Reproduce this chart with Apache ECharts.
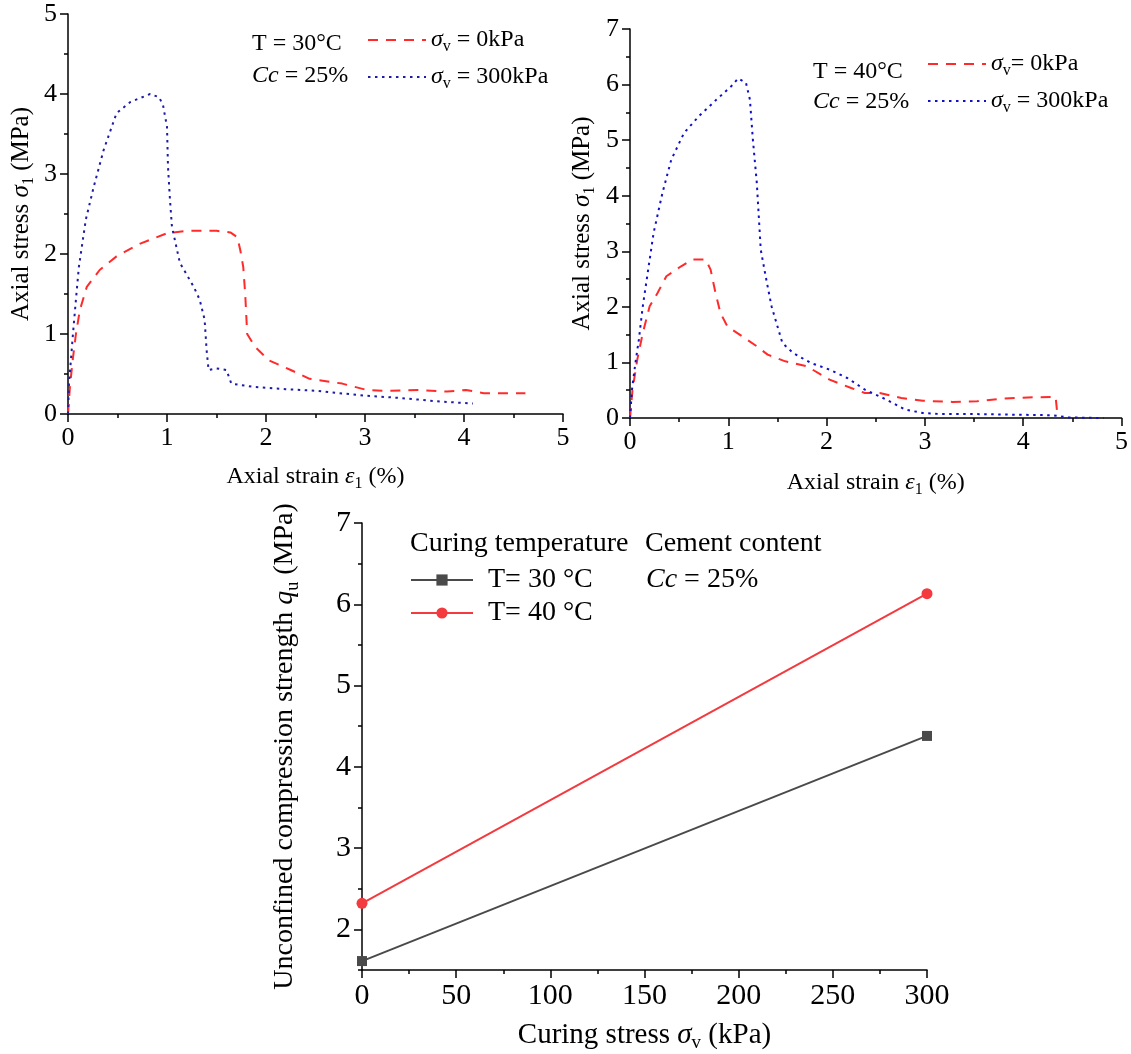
<!DOCTYPE html>
<html>
<head>
<meta charset="utf-8">
<title>Axial stress - strain and unconfined compression strength</title>
<script src="https://cdn.jsdelivr.net/npm/echarts@6/dist/echarts.min.js"></script>
<style>
    html, body { margin: 0; padding: 0; background: #fff; }
    #main { width: 1131px; height: 1054px; }
</style>
</head>
<body>
<div id="main"></div>
<script>
"use strict";

// T = 30°C, sigma_v = 0kPa
var strain30_0 = [0, 0.02, 0.05, 0.08, 0.12, 0.19, 0.32, 0.49, 0.73, 1.0, 1.2, 1.5, 1.64, 1.71, 1.74, 1.77, 1.79, 1.81, 1.89, 2.03, 2.25, 2.44, 2.77, 3.02, 3.2, 3.54, 3.83, 4.02, 4.2, 4.62];
var stress30_0 = [0, 0.35, 0.7, 1.0, 1.3, 1.59, 1.8, 1.97, 2.13, 2.26, 2.29, 2.29, 2.27, 2.21, 2.05, 1.84, 1.5, 1.0, 0.84, 0.67, 0.55, 0.44, 0.38, 0.30, 0.29, 0.30, 0.28, 0.30, 0.26, 0.26];
// T = 30°C, sigma_v = 300kPa
var strain30_300 = [0, 0.01, 0.03, 0.05, 0.08, 0.11, 0.18, 0.26, 0.36, 0.49, 0.63, 0.83, 0.92, 0.96, 1.0, 1.01, 1.03, 1.05, 1.13, 1.27, 1.33, 1.38, 1.40, 1.42, 1.5, 1.6, 1.65, 1.87, 2.2, 2.51, 2.99, 3.36, 3.54, 3.72, 4.09];
var stress30_300 = [0, 0.39, 0.68, 1.0, 1.43, 1.84, 2.43, 2.84, 3.3, 3.76, 3.9, 4.0, 3.96, 3.86, 3.59, 3.09, 2.68, 2.34, 1.89, 1.59, 1.43, 1.18, 0.8, 0.55, 0.57, 0.55, 0.38, 0.34, 0.31, 0.29, 0.23, 0.2, 0.18, 0.16, 0.13];
// T = 40°C, sigma_v = 0kPa
var strain40_0 = [0, 0.026, 0.074, 0.13, 0.2, 0.28, 0.37, 0.52, 0.63, 0.77, 0.82, 0.87, 0.92, 0.99, 1.14, 1.29, 1.4, 1.58, 1.8, 2.03, 2.25, 2.39, 2.54, 2.76, 2.98, 3.28, 3.53, 3.79, 4.05, 4.33, 4.35];
var stress40_0 = [0, 0.51, 1.05, 1.53, 2.01, 2.25, 2.55, 2.73, 2.85, 2.85, 2.67, 2.25, 1.89, 1.65, 1.47, 1.29, 1.14, 1.02, 0.93, 0.69, 0.54, 0.45, 0.45, 0.36, 0.31, 0.29, 0.3, 0.35, 0.37, 0.38, 0.02];
// T = 40°C, sigma_v = 300kPa
var strain40_300 = [0, 0.02, 0.055, 0.09, 0.13, 0.18, 0.24, 0.33, 0.42, 0.55, 0.7, 0.88, 1.03, 1.1, 1.18, 1.22, 1.25, 1.29, 1.31, 1.33, 1.38, 1.44, 1.51, 1.55, 1.66, 1.84, 2.03, 2.21, 2.39, 2.61, 2.8, 2.98, 3.17, 3.53, 3.9, 4.3, 4.45, 4.82];
var stress40_300 = [0, 0.51, 0.99, 1.41, 2.01, 2.61, 3.33, 4.05, 4.65, 5.13, 5.43, 5.73, 5.97, 6.11, 6.03, 5.73, 5.01, 4.23, 3.63, 3.03, 2.55, 2.01, 1.59, 1.35, 1.17, 0.99, 0.87, 0.72, 0.51, 0.33, 0.15, 0.09, 0.07, 0.07, 0.06, 0.05, 0.01, 0.0];

// qu vs curing stress
var curingStress = [0, 300];
var qu30 = [1.61, 4.38];
var qu40 = [2.32, 6.13];
var quTicks = [2, 3, 4, 5, 6, 7];

var FONT = '"Liberation Serif", "Times New Roman", serif';

function zip(xs, ys) {
    return xs.map(function (x, i) { return [x, ys[i]]; });
}

// n: normal, i: italic, s: subscript
function richSet(size) {
    var lh = size + 6;
    return {
        n: {fontFamily: FONT, fontSize: size, lineHeight: lh, color: '#000'},
        i: {fontFamily: FONT, fontSize: size, lineHeight: lh, fontStyle: 'italic', color: '#000'},
        s: {fontFamily: FONT, fontSize: Math.round(size * 0.65), lineHeight: Math.round(size * 0.72), verticalAlign: 'bottom', color: '#000'}
    };
}

var legendText = {
    '30|0': '{i|σ}{s|v}{n| = 0kPa}',
    '30|300': '{i|σ}{s|v}{n| = 300kPa}',
    '40|0': '{i|σ}{s|v}{n|= 0kPa}',
    '40|300': '{i|σ}{s|v}{n| = 300kPa}',
    't30': '{n|T= 30 °C}',
    't40': '{n|T= 40 °C}'
};

var axisLine = {lineStyle: {color: '#000', width: 1.5}};

function valueAxis(gridIndex, min, max, interval, size, name, nameSize, gap) {
    return {
        type: 'value',
        gridIndex: gridIndex,
        min: min,
        max: max,
        interval: interval,
        axisLine: axisLine,
        axisTick: {length: 8, lineStyle: {color: '#000', width: 1.5}},
        minorTick: {show: true, splitNumber: 2, length: 4, lineStyle: {color: '#000', width: 1.5}},
        splitLine: {show: false},
        axisLabel: {fontFamily: FONT, fontSize: size, color: '#000', margin: 11},
        name: name,
        nameLocation: 'middle',
        nameGap: gap,
        nameTextStyle: {rich: richSet(nameSize)}
    };
}

var strainName = '{n|Axial strain }{i|ε}{s|1}{n| (%)}';
var stressName = '{n|Axial stress }{i|σ}{s|1}{n| (MPa)}';

var RED = '#ff2a2a';
var dash = [10, 8];
var dot = [2.5, 4.5];

function curve(name, gi, data, color, type) {
    return {
        name: name,
        type: 'line',
        xAxisIndex: gi,
        yAxisIndex: gi,
        data: data,
        symbol: 'none',
        lineStyle: {color: color, width: 2, type: type},
        itemStyle: {color: color},
        z: type === dot ? 3 : 2
    };
}

function curveLegend(names, left, top, gap) {
    return {
        data: names,
        left: left,
        top: top,
        padding: 0,
        orient: 'vertical',
        itemWidth: 58,
        itemHeight: 14,
        itemGap: gap,
        selectedMode: false,
        itemStyle: {opacity: 0},
        formatter: function (n) { return legendText[n]; },
        textStyle: {rich: richSet(24)}
    };
}

function label(text, x, y, size) {
    return {
        type: 'text',
        x: x,
        y: y,
        style: {text: text, rich: richSet(size), verticalAlign: 'middle', align: 'left'}
    };
}

var chart = echarts.init(document.getElementById('main'));

var quY = valueAxis(2, 1.5, 7, null, 30,
    '{n|Unconfined compression strength }{i|q}{s|u}{n| (MPa)}', 28, 60);
delete quY.interval;
quY.position = 'left';
quY.minorTick = {show: false};
quY.axisTick.customValues = quTicks;
quY.axisLabel.customValues = quTicks;

var option = {
    backgroundColor: '#fff',
    animation: false,
    grid: [
        {left: 68, top: 14, width: 495, height: 400},
        {left: 630, top: 29, width: 493, height: 389},
        {left: 362, top: 523, width: 565, height: 447}
    ],
    xAxis: [
        valueAxis(0, 0, 5, 1, 26, strainName, 24, 48),
        valueAxis(1, 0, 5, 1, 26, strainName, 24, 50),
        valueAxis(2, 0, 300, 50, 30, '{n|Curing stress }{i|σ}{s|v}{n| (kPa)}', 29, 48)
    ],
    yAxis: [
        valueAxis(0, 0, 5, 1, 26, stressName, 25, 31),
        valueAxis(1, 0, 7, 1, 26, stressName, 25, 32),
        quY,
        // short ticks every 0.5 on the qu axis
        {
            type: 'value', gridIndex: 2, position: 'left', min: 1.5, max: 7, interval: 0.5,
            axisLine: {show: false}, axisLabel: {show: false}, splitLine: {show: false},
            axisTick: {length: 4, lineStyle: {color: '#000', width: 1.5}}
        }
    ],
    legend: [
        curveLegend(['30|0', '30|300'], 367, 28, 10),
        curveLegend(['40|0', '40|300'], 927, 52, 10),
        {
            data: ['t30', 't40'],
            left: 410,
            top: 566,
            padding: 0,
            orient: 'vertical',
            itemWidth: 62,
            itemHeight: 14,
            itemGap: 5,
            selectedMode: false,
            formatter: function (n) { return legendText[n]; },
            textStyle: {rich: richSet(28), padding: [0, 0, 0, 10]}
        }
    ],
    graphic: [
        label('{n|T = 30°C}', 252, 44, 24),
        label('{i|Cc}{n| = 25%}', 252, 76, 24),
        label('{n|T = 40°C}', 813, 72, 24),
        label('{i|Cc}{n| = 25%}', 813, 102, 24),
        label('{n|Curing temperature}', 410, 544, 28),
        label('{n|Cement content}', 645, 544, 28),
        label('{i|Cc}{n| = 25%}', 646, 580, 28)
    ],
    series: [
        curve('30|0', 0, zip(strain30_0, stress30_0), RED, dash),
        curve('30|300', 0, zip(strain30_300, stress30_300), '#1c1ca6', dot),
        curve('40|0', 1, zip(strain40_0, stress40_0), RED, dash),
        curve('40|300', 1, zip(strain40_300, stress40_300), '#1010c8', dot),
        {
            name: 't30', type: 'line', xAxisIndex: 2, yAxisIndex: 2,
            data: zip(curingStress, qu30),
            symbol: 'rect', symbolSize: 10,
            lineStyle: {color: '#4a4a4a', width: 2},
            itemStyle: {color: '#4a4a4a'}
        },
        {
            name: 't40', type: 'line', xAxisIndex: 2, yAxisIndex: 2,
            data: zip(curingStress, qu40),
            symbol: 'circle', symbolSize: 11,
            lineStyle: {color: '#f23a3f', width: 2},
            itemStyle: {color: '#f23a3f'}
        }
    ]
};

chart.setOption(option);
</script>
</body>
</html>
